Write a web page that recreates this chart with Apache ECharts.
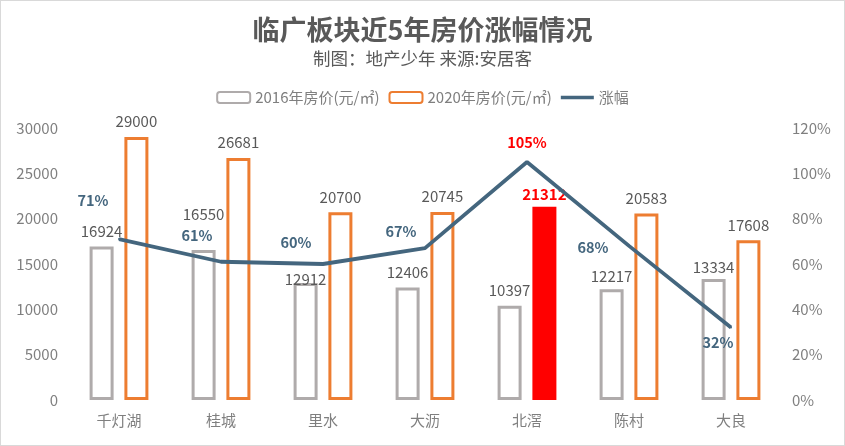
<!DOCTYPE html>
<html><head><meta charset="utf-8">
<script src="https://cdn.jsdelivr.net/npm/echarts@6/dist/echarts.min.js"></script>
<style>html,body{margin:0;padding:0;background:#fff}#c{width:845px;height:446px;border:1px solid #d9d9d9;box-sizing:border-box}</style>
</head><body><div id="c"></div>
<script>
const categories = ['千灯湖','桂城','里水','大沥','北滘','陈村','大良'];
const price2016 = [16924,16550,12912,12406,10397,12217,13334];
const price2020 = [29000,26681,20700,20745,21312,20583,17608];
const growth = [71,61,60,67,105,68,32];
const highlightIndex = 4;

const FONT = '"Noto Sans CJK SC","Open Sans",sans-serif';
const lineColor = '#44667e';
const grey = '#afabab', orange = '#ed7d31';
const txt = '#595959', axisTxt = '#7f7f7f';
// label offsets (pixels) to avoid overlaps, as in the reference
const growthOffsets = [[-26,-39],[-24,-26],[-27,-22],[-24,-17],[0,-20],[-36,2],[-13,15]];
const label2016Offsets = [[0,0],[0,-20],[0,12],[0,0],[0,0],[0,3],[0,4]];

const chart = echarts.init(document.getElementById('c'));
chart.setOption({
  animation:false,
  textStyle:{fontFamily:FONT},
  title:[
    {text:'临广板块近5年房价涨幅情况',left:'center',top:10,textStyle:{fontSize:27,fontWeight:'bold',color:txt,fontFamily:FONT}},
    {text:'制图：地产少年 来源:安居客',left:'center',top:44,textStyle:{fontSize:17.5,fontWeight:'normal',color:txt,fontFamily:FONT}}
  ],
  legend:{
    top:84,left:'center',itemWidth:33,itemHeight:11,itemGap:9,
    textStyle:{fontSize:15,color:axisTxt,fontFamily:FONT},
    data:[
      {name:'2016年房价(元/㎡)'},
      {name:'2020年房价(元/㎡)'},
      {name:'涨幅',icon:'path://M0,0 L36,0 L36,4 L0,4 Z'}
    ]
  },
  grid:{left:67,right:62,top:127,bottom:45,containLabel:false},
  xAxis:{type:'category',data:categories,axisLine:{show:false},axisTick:{show:false},
    axisLabel:{color:axisTxt,fontSize:15,margin:13,fontFamily:FONT}},
  yAxis:[
    {type:'value',min:0,max:30000,interval:5000,splitLine:{show:false},axisLine:{show:false},axisTick:{show:false},
      axisLabel:{color:axisTxt,fontSize:15,margin:10,fontFamily:FONT,formatter:v=>String(v)}},
    {type:'value',min:0,max:120,interval:20,splitLine:{show:false},axisLine:{show:false},axisTick:{show:false},
      axisLabel:{color:axisTxt,fontSize:15,margin:10,formatter:'{value}%',fontFamily:FONT}}
  ],
  series:[
    {name:'2016年房价(元/㎡)',type:'bar',barWidth:24,barGap:'45%',
      data:price2016.map((v,i)=>({value:v,label:{offset:label2016Offsets[i]}})),
      itemStyle:{color:'#fff',borderColor:grey,borderWidth:3},
      label:{show:true,position:'top',distance:8,color:txt,fontSize:15,fontFamily:FONT}},
    {name:'2020年房价(元/㎡)',type:'bar',barWidth:24,
      data:price2020.map((v,i)=>i===highlightIndex?{value:v,itemStyle:{color:'#ff0000',borderColor:'#ff0000'},label:{color:'#ff0000',fontWeight:'bold',distance:5}}:v),
      itemStyle:{color:'#fff',borderColor:orange,borderWidth:3},
      label:{show:true,position:'top',distance:8,color:txt,fontSize:15,fontFamily:FONT}},
    {name:'涨幅',type:'line',yAxisIndex:1,symbol:'circle',symbolSize:2,
      lineStyle:{color:lineColor,width:3.8},itemStyle:{color:lineColor},
      data:growth.map((v,i)=>({value:v,label:{offset:growthOffsets[i],color:i===highlightIndex?'#ff0000':lineColor}})),
      label:{show:true,position:'inside',formatter:'{c}%',fontSize:14.5,fontWeight:'bold',fontFamily:FONT}}
  ]
});
</script></body></html>
